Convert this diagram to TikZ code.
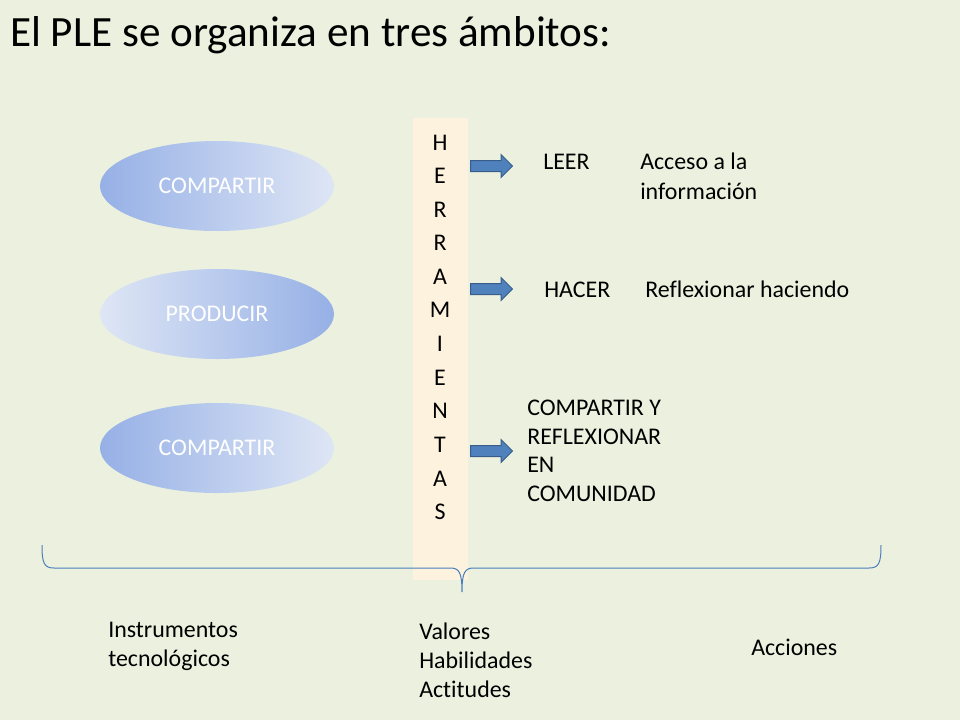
\documentclass[tikz,border=0pt]{standalone}
\usepackage{fontspec}
\setmainfont{Carlito}[Ligatures=NoCommon]
\usetikzlibrary{shapes.geometric,shapes.arrows}

\definecolor{slidebg}{RGB}{235,241,222}
\definecolor{barfill}{RGB}{252,242,222}
\definecolor{ovaldark}{RGB}{150,176,230}
\definecolor{ovallight}{RGB}{222,230,245}
\definecolor{arrowfill}{RGB}{79,129,189}
\definecolor{arrowline}{RGB}{56,93,138}
\definecolor{bracecol}{RGB}{74,126,187}

\tikzset{
  oval/.style={ellipse, minimum width=175.5bp, minimum height=67.5bp,
    text=white, font=\fontsize{18}{22}\selectfont},
  letter/.style={inner sep=0pt, font=\fontsize{18}{22}\selectfont},
  label/.style={anchor=base west, inner sep=0pt, align=left},
  harrow/.style={single arrow, draw=arrowline, fill=arrowfill, line width=0.75bp,
    minimum height=31.5bp, minimum width=16.5bp, single arrow head extend=4.5bp,
    inner sep=3.75bp, anchor=tail},
}

\begin{document}
\begin{tikzpicture}[x=0.75bp, y=-0.75bp]
      \fill[slidebg] (0,0) rectangle (960,720);
      \useasboundingbox (0,0) rectangle (960,720);

      \node[anchor=base west, inner sep=0pt, font=\fontsize{32.5}{38}\selectfont]
        (title) at (10,46) {El PLE se organiza en tres ámbitos:};

      \node[oval, left color=ovaldark, right color=ovallight] (share1) at (217,186) {COMPARTIR};
      \node[oval, left color=ovallight, right color=ovaldark] (produce) at (217,314) {PRODUCIR};
      \node[oval, left color=ovaldark, right color=ovallight] (share2) at (217,448) {COMPARTIR};

      \node[fill=barfill, minimum width=41.25bp, minimum height=346.5bp, inner sep=0pt]
        (bar) at (440.5,349) {};

      \node[letter] (l1) at (440,143) {H};
      \node[letter] (l2) at (440,176) {E};
      \node[letter] (l3) at (440,210) {R};
      \node[letter] (l4) at (440,243) {R};
      \node[letter] (l5) at (440,277) {A};
      \node[letter] (l6) at (440,310) {M};
      \node[letter] (l7) at (440,344) {I};
      \node[letter] (l8) at (440,378) {E};
      \node[letter] (l9) at (440,411) {N};
      \node[letter] (l10) at (440,445) {T};
      \node[letter] (l11) at (440,479) {A};
      \node[letter] (l12) at (440,512) {S};

      \node[harrow] (arr1) at (470,166) {};
      \node[harrow] (arr2) at (470,289) {};
      \node[harrow] (arr3) at (470,451) {};

      \node[label, font=\fontsize{18}{22.5}\selectfont] (leer) at (543,169) {LEER};
      \node[label, font=\fontsize{18}{22.5}\selectfont] (acceso) at (640,199) {Acceso a la\\información};
      \node[label, font=\fontsize{18}{22.5}\selectfont] (hacer) at (544,297) {HACER};
      \node[label, font=\fontsize{18}{22.5}\selectfont] (reflex) at (645,297) {Reflexionar haciendo};
      \node[label, font=\fontsize{18}{21.4}\selectfont] (comun) at (527,501)
        {COMPARTIR Y\\REFLEXIONAR\\EN\\COMUNIDAD};

      % llave inferior
      \coordinate (bl) at (42,545);
      \coordinate (tip) at (462,592);
      \coordinate (br) at (881,545);
      \draw[bracecol, line width=0.75bp] (bl) .. controls (42,563) and (44,568) .. (54,568)
        -- (450,568) .. controls (459,568) and (462,572) .. (tip)
        .. controls (462,572) and (465,568) .. (474,568)
        -- (869,568) .. controls (879,568) and (881,563) .. (br);

      \node[label, font=\fontsize{18}{21.75}\selectfont] (instr) at (108,666) {Instrumentos\\tecnológicos};
      \node[label, font=\fontsize{18}{21.75}\selectfont] (valores) at (419,697) {Valores\\Habilidades\\Actitudes};
      \node[label, font=\fontsize{18}{21.75}\selectfont] (acciones) at (751,655) {Acciones};
\end{tikzpicture}
\end{document}
